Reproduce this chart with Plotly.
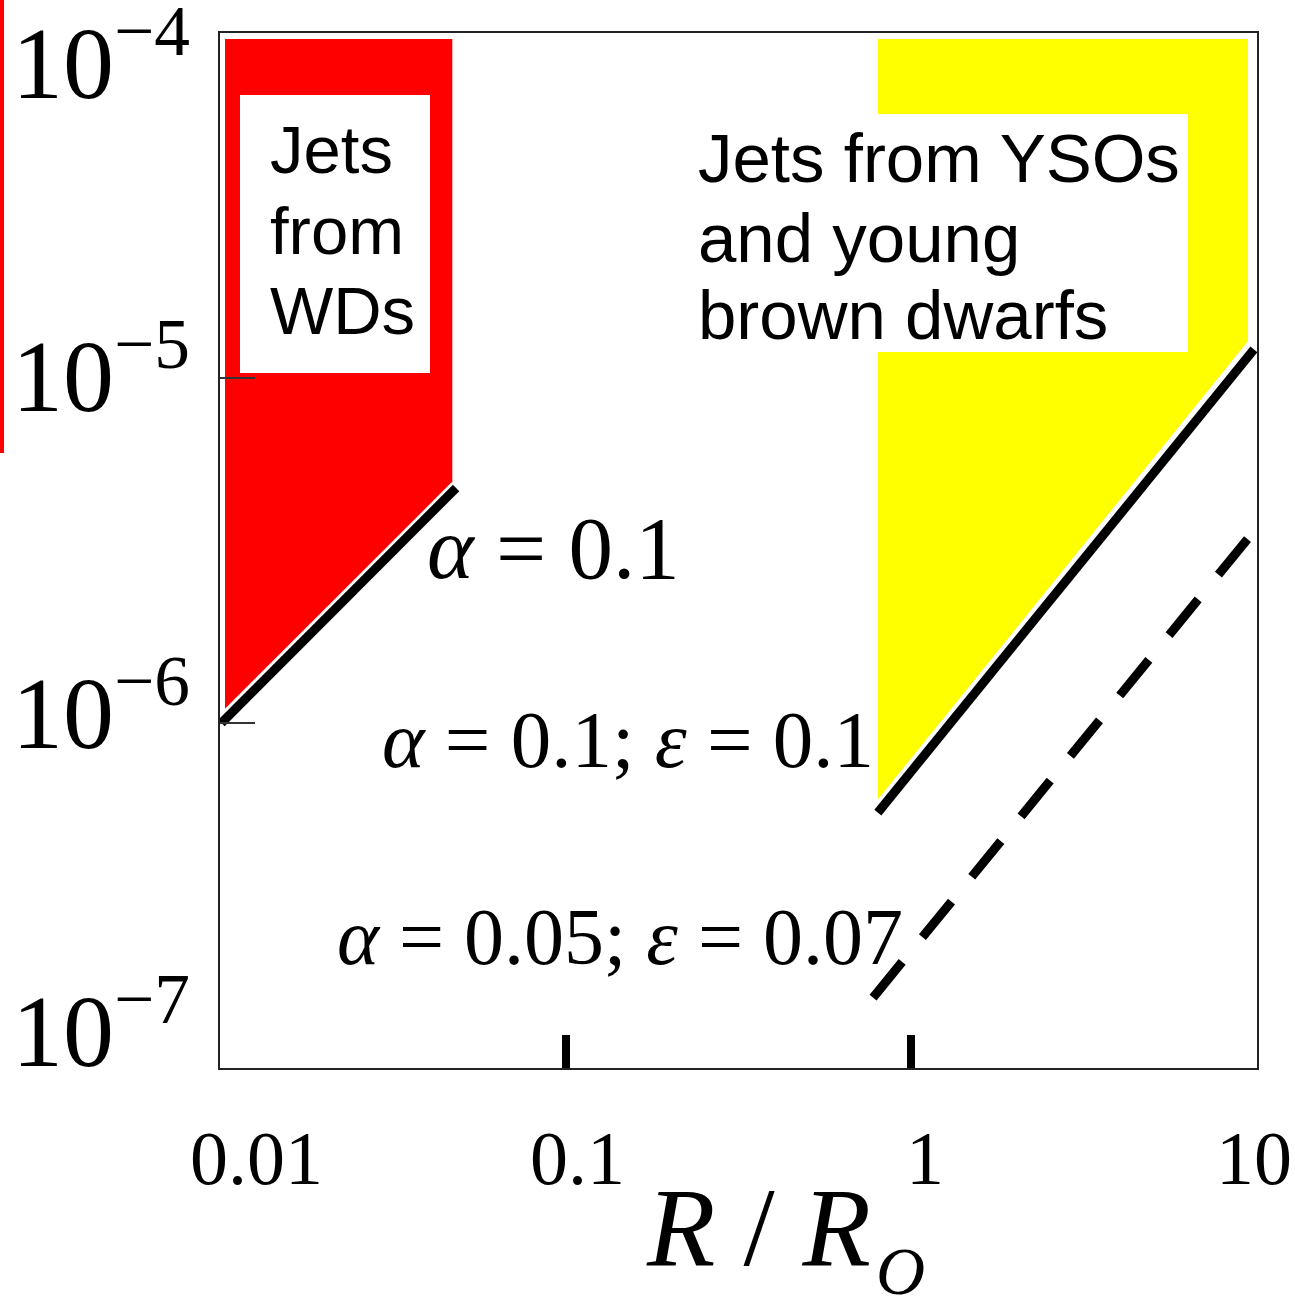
import plotly.graph_objects as go
import math

# ---------------- data ----------------
# Filled regions (R / R_O, M)
wd_region_R = [0.01034, 0.047, 0.047, 0.01034]
wd_region_M = [9.6e-5, 9.6e-5, 5.0e-6, 1.1e-6]
yso_region_R = [0.80, 9.42, 9.42, 0.80]
yso_region_M = [9.6e-5, 9.6e-5, 1.28e-5, 6.0e-7]

# Lines
line_wd_R = [0.0101, 0.0482]          # alpha = 0.1
line_wd_M = [1.0e-6, 4.8e-6]
line_yso_R = [0.80, 9.8]              # alpha = 0.1; eps = 0.1
line_yso_M = [5.5e-7, 1.21e-5]
line_dash_R = [0.775, 9.87]           # alpha = 0.05; eps = 0.07
line_dash_M = [1.6e-7, 3.63e-6]

# Axis ticks / labels
x_tick_vals = [0.01, 0.1, 1, 10]
x_tick_text = ["0.01", "0.1", "1", "10"]
x_tick_marks = [0.1, 1]
y_tick_vals = [1e-4, 1e-5, 1e-6, 1e-7]
y_tick_text = ["10<sup>\u22124</sup>", "10<sup>\u22125</sup>",
               "10<sup>\u22126</sup>", "10<sup>\u22127</sup>"]
y_tick_marks = [1e-5, 1e-6]
x_title_main = "<i>R</i> / <i>R</i>"
x_title_sub = "<i>O</i>"

wd_label = ["Jets", "from", "WDs"]
yso_label = ["Jets from YSOs", "and young", "brown dwarfs"]
line_labels = ["<i>\u03b1</i> = 0.1",
               "<i>\u03b1</i> = 0.1; <i>\u03b5</i> = 0.1",
               "<i>\u03b1</i> = 0.05; <i>\u03b5</i> = 0.07"]

# ---------------- layout helpers ----------------
W, H = 1295, 1296
L, R_, T, B = 220, 38, 33, 228
PW, PH = W - L - R_, H - T - B


def px_x(p):
    return (p - L) / PW


def px_y(p):
    return 1 - (p - T) / PH


SERIF = "Liberation Serif, Times New Roman, serif"
SANS = "Liberation Sans, Arial, sans-serif"

fig = go.Figure()

# filled regions
fig.add_trace(go.Scatter(x=wd_region_R, y=wd_region_M, fill="toself",
                         fillcolor="#ff0000", mode="lines",
                         line=dict(width=0, color="#ff0000"),
                         hoverinfo="skip", showlegend=False))
fig.add_trace(go.Scatter(x=yso_region_R, y=yso_region_M, fill="toself",
                         fillcolor="#ffff00", mode="lines",
                         line=dict(width=0, color="#ffff00"),
                         hoverinfo="skip", showlegend=False))

# lines with white halo
for xs, ys in [(line_wd_R, line_wd_M), (line_yso_R, line_yso_M)]:
    fig.add_trace(go.Scatter(x=xs, y=ys, mode="lines",
                             line=dict(width=14, color="white"),
                             hoverinfo="skip", showlegend=False))
    fig.add_trace(go.Scatter(x=xs, y=ys, mode="lines",
                             line=dict(width=9, color="black"),
                             hoverinfo="skip", showlegend=False))
fig.add_trace(go.Scatter(x=line_dash_R, y=line_dash_M, mode="lines",
                         line=dict(width=9, color="black", dash="46px,32px"),
                         hoverinfo="skip", showlegend=False))

shapes = [
    # white label boxes
    dict(type="rect", xref="paper", yref="paper", layer="above",
         x0=px_x(240), x1=px_x(430), y0=px_y(373), y1=px_y(95),
         fillcolor="white", line=dict(width=0)),
    dict(type="rect", xref="paper", yref="paper", layer="above",
         x0=px_x(683), x1=px_x(1188), y0=px_y(352), y1=px_y(114),
         fillcolor="white", line=dict(width=0)),
    # red edge artefact at the far left of the picture
    dict(type="rect", xref="paper", yref="paper", layer="above",
         x0=px_x(0), x1=px_x(4), y0=px_y(453), y1=px_y(0),
         fillcolor="#ff0000", line=dict(width=0)),
]

annotations = []
# x tick labels
x_label_centers = [256, 577, 925, 1254]
for v, t, c in zip(x_tick_vals, x_tick_text, x_label_centers):
    tick_px = L + PW * (math.log10(v) + 2) / 3
    annotations.append(dict(x=math.log10(v), xref="x", y=0, yref="paper",
                            text=t, showarrow=False, xanchor="center",
                            yanchor="middle", xshift=c - tick_px, yshift=-90,
                            font=dict(family=SERIF, size=76, color="black")))
# y tick labels
y_label_centers = [55, 368, 705, 1023]
for v, t, c in zip(y_tick_vals, y_tick_text, y_label_centers):
    tick_px = T + PH * (-4 - math.log10(v)) / 3
    annotations.append(dict(x=0, xref="paper", y=math.log10(v), yref="y",
                            text=t, showarrow=False, xanchor="left",
                            yanchor="middle", xshift=10 - L,
                            yshift=-(c - tick_px),
                            font=dict(family=SERIF, size=102, color="black")))
# x axis title
annotations.append(dict(x=0, xref="paper", y=0, yref="paper",
                        text=x_title_main,
                        showarrow=False, xanchor="left", yanchor="top",
                        xshift=644 - L, yshift=-(1163 - (T + PH)),
                        font=dict(family=SERIF, size=112, color="black")))
annotations.append(dict(x=0, xref="paper", y=0, yref="paper",
                        text=x_title_sub,
                        showarrow=False, xanchor="left", yanchor="middle",
                        xshift=874 - L, yshift=-(1271 - (T + PH)),
                        font=dict(family=SERIF, size=68, color="black")))
# region labels
for txt, cy in zip(wd_label, [149, 230, 310]):
    annotations.append(dict(x=px_x(268), xref="paper", y=px_y(cy), yref="paper",
                            text=txt, showarrow=False, xanchor="left",
                            yanchor="middle",
                            font=dict(family=SANS, size=67, color="black")))
for txt, cy in zip(yso_label, [158, 239, 316]):
    annotations.append(dict(x=px_x(696), xref="paper", y=px_y(cy), yref="paper",
                            text=txt, showarrow=False, xanchor="left",
                            yanchor="middle",
                            font=dict(family=SANS, size=69, color="black")))
# line labels
for txt, cx, cy, fs in zip(line_labels, [553, 628, 620], [548, 740, 937],
                           [89, 81, 80]):
    annotations.append(dict(x=px_x(cx), xref="paper", y=px_y(cy), yref="paper",
                            text=txt, showarrow=False, xanchor="center",
                            yanchor="middle",
                            font=dict(family=SERIF, size=fs, color="black")))

fig.update_layout(
    width=W, height=H,
    margin=dict(l=L, r=R_, t=T, b=B, pad=0),
    paper_bgcolor="white", plot_bgcolor="white",
    showlegend=False, hovermode=False,
    shapes=shapes, annotations=annotations,
    xaxis=dict(type="log", range=[-2, 1], showgrid=False, zeroline=False,
               showline=True, mirror=True, linecolor="#222", linewidth=2,
               tickmode="array", tickvals=x_tick_marks, ticks="inside",
               ticklen=33, tickwidth=8, tickcolor="black",
               showticklabels=False),
    yaxis=dict(type="log", range=[-7, -4], showgrid=False, zeroline=False,
               showline=True, mirror=True, linecolor="#222", linewidth=2,
               tickmode="array", tickvals=y_tick_marks, ticks="inside",
               ticklen=35, tickwidth=2, tickcolor="#333",
               showticklabels=False),
)

fig.write_html("out.html",
               config={"displayModeBar": False, "staticPlot": True},
               post_script="document.body.style.margin='0px';"
                           "document.body.style.overflow='hidden';")
